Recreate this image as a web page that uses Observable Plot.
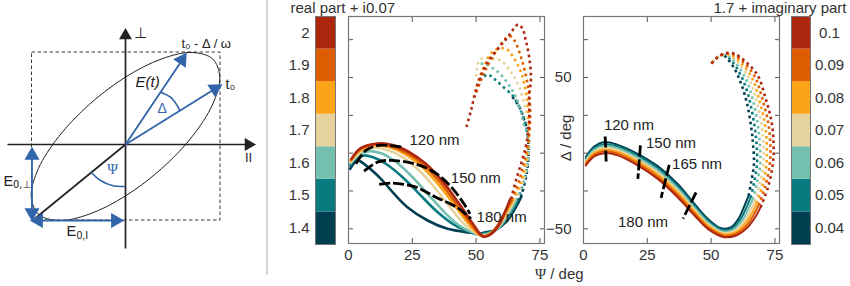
<!DOCTYPE html>
<html><head><meta charset="utf-8">
<script src="https://cdn.jsdelivr.net/npm/d3@7"></script>
<script src="https://cdn.jsdelivr.net/npm/@observablehq/plot@0.6"></script>
<style>
html,body{margin:0;padding:0;background:#fff}
#c{position:relative;width:850px;height:286px;overflow:hidden;font-family:"Liberation Sans",sans-serif;color:#333}
#c svg{position:absolute;background:transparent;overflow:visible}
.t{position:absolute;font-size:15px;line-height:15px;white-space:nowrap}
</style></head><body><div id="c"></div>
<script>
// ---------- shared
const colors=["#003f50","#087a80","#73c0ae","#e5d29c","#fca318","#dd5d00","#ac270e"];
const realLevels=[1.4,1.5,1.6,1.7,1.8,1.9,2];
const imagLevels=[0.04,0.05,0.06,0.07,0.08,0.09,0.1];
const xTicks=[0,25,50,75];
const yTicks=[-50,-25,0,25,50,75];
const yLabelTicks=[-50,50];

// ---------- real-part scan (Psi, Delta)
const realSolid14=[[.65,-10.4],[3.5,-4.8],[6.8,-8.1],[12.7,-17],[17.9,-26.9],[23.1,-35.7],[31,-44.5],[38.8,-50],[48,-52.6],[51.2,-53.3],[53.9,-52.2],[57.1,-51.1],[61.7,-45.6],[65.6,-35.7],[67.6,-29.1]];
const realSolid15=[[.5,-8.1],[2.9,-3.7],[6.1,-1.5],[9.4,-2.6],[14.6,-7],[21.2,-15.9],[27.7,-26.9],[34.2,-37.9],[40.8,-46.7],[46,-51.1],[51.2,-53.7],[54.5,-52.6],[57.8,-50.7],[62,-43.4],[66.3,-31.3]];
const realSolid16=[[.65,-7],[4.2,-.9],[8.1,1.3],[13.3,-.4],[18.6,-5.9],[25.1,-15.9],[31.6,-28],[38.2,-40.1],[43.4,-47.8],[47.3,-51.5],[51.9,-54],[55.2,-52.9],[58.4,-50],[62.4,-41.2],[65.6,-31.3]];
const realSolid17=[[.9,-5.9],[4.8,.7],[9.4,3.5],[14.6,2.4],[21.2,-2.6],[27.7,-11.5],[34.2,-23.6],[40.8,-37.9],[46,-47.8],[51.9,-54.4],[55.4,-53.3],[58.7,-48.9],[62,-40.1],[65,-31.3]];
const realSolid18=[[.9,-4.8],[4.8,2.2],[10.1,5.1],[15.9,4],[22.5,-.9],[29,-9.3],[35.6,-21.4],[42.1,-35.7],[47.3,-47.1],[52.3,-54.8],[55.4,-53.3],[58.7,-47.8],[61.7,-39],[64.3,-31.3]];
const realSolid19=[[1,-4.4],[4.8,2.9],[10.7,5.7],[16.6,4.6],[23.1,0],[29.7,-8.1],[36.2,-19.8],[42.7,-34.6],[48,-46.7],[52.5,-54.8],[55.4,-53.7],[58.7,-47.1],[61.3,-39],[63.9,-31.3]];
const realSolid20=[[1.2,-3.7],[4.8,3.3],[11.4,6.4],[17.3,5.3],[23.8,.7],[30.3,-7],[36.9,-18.7],[43.4,-33.5],[48.6,-46.3],[52.8,-55.1],[55.4,-54],[59.1,-47.1],[61,-40.1],[63.3,-30.6]];
const realDots14=[[67.6,-29.1],[69.8,-13.7],[70.5,-.4],[70.1,13.9],[68.5,23.8],[66.9,30.8],[63.3,39.2]];
const realDots15=[[66.3,-31.3],[69.5,-13.7],[70.5,-.4],[70.1,13.9],[68.5,23.8],[66.3,32.6],[64.3,38.1],[60.4,44.1],[57.1,49.1],[54.5,52],[52.5,49.8],[50.2,48]];
const realDots16=[[65.6,-31.3],[69.2,-15.9],[70.6,-.4],[70.5,12.8],[69.2,16.1],[67.6,27.1],[65.6,37],[63,44.7],[60,51.3],[56.5,56.2],[53.2,59],[50.6,59]];
const realDots17=[[65,-31.3],[68.5,-18.1],[70.2,-2.6],[70.6,12.8],[70.2,22.7],[68.9,32.6],[66.9,43.6],[63.7,53.5],[59.7,61.2],[56.5,62.3],[53.2,63],[51.2,61.2],[49.9,49.1]];
const realDots18=[[64.3,-31.3],[67.6,-19.2],[69.5,-4.8],[70.6,8.4],[70.6,24.9],[69.5,40.3],[67.6,53.5],[65,62.3],[61.7,68.9],[57.1,67.8],[53.9,60.1],[51.9,52.4],[50.2,44]];
const realDots19=[[63.9,-30.6],[66.9,-18.1],[68.9,-4.8],[70.5,8.4],[71.2,23.8],[70.8,38.1],[69.5,51.3],[67.6,63.4],[65,74.4],[63,77.3],[58.4,68.9],[53.9,55.7],[51.9,48],[49.3,37]];
const realDots20=[[63.7,-30.2],[65.6,-18.1],[68,-4.8],[69.8,7.3],[70.8,21.6],[70.8,38.1],[71.5,49.1],[70.8,63.4],[69.5,74.4],[68.2,82.2],[66.5,85],[62.4,76.7],[59.1,70],[54.5,60.1],[50.6,45.8],[48,28.2],[46,16.1]];
const thick120=[[2.9,-7],[6.8,1.8],[12,5.1],[21.2,4]];
const thick150=[[6.1,-11.9],[11.4,-5.9],[16.6,-4.8],[25.8,-7],[33.6,-12.6],[40.1,-22],[45.4,-33.9],[47.6,-40.1]];
const thick180=[[12,-20.7],[17.3,-19.8],[26.4,-22.5],[34.2,-29.1],[42.7,-36.1],[48,-43.4]];
const realLabels=[{t:"120 nm",x:33.7,y:8.8},{t:"150 nm",x:49.9,y:-16.5},{t:"180 nm",x:60,y:-42.3}];

// ---------- imaginary-part scan (Psi, Delta)
const imagSolid04=[[.9,-2.6],[4.2,4.4],[8.1,7.3],[13.4,5.5],[21.2,-.4],[29.1,-8.6],[36.9,-20.3],[43.5,-33.5],[48.7,-43.4],[53.9,-49.6],[57.9,-48.9],[61.1,-42.3],[63.1,-34.6],[64.7,-28]];
const imagSolid05=[[.9,-3.5],[4.2,3.3],[8.1,6.1],[13.4,4.3],[21.2,-1.7],[29.1,-10],[36.9,-21.8],[43.5,-34.8],[48.7,-44.5],[54.1,-50.6],[58.2,-49.8],[61.6,-43.4],[63.9,-35.7],[65.5,-29.3]];
const imagSolid06=[[.9,-4.4],[4.2,2.2],[8.1,4.9],[13.4,3.2],[21.2,-3],[29.1,-11.4],[36.9,-23.2],[43.5,-36.1],[48.7,-45.6],[54.3,-51.6],[58.5,-50.7],[62.2,-44.5],[64.6,-36.8],[66.3,-30.6]];
const imagSolid07=[[.9,-5.3],[4.2,1.1],[8.1,3.7],[13.4,2],[21.2,-4.3],[29.1,-12.8],[36.9,-24.7],[43.5,-37.4],[48.7,-46.7],[54.5,-52.5],[58.9,-51.6],[62.8,-45.6],[65.4,-37.9],[67,-31.9]];
const imagSolid08=[[.9,-6.3],[4.2,0],[8.1,2.4],[13.4,.8],[21.2,-5.5],[29.1,-14.2],[36.9,-26.2],[43.5,-38.6],[48.7,-47.8],[54.8,-53.5],[59.2,-52.6],[63.3,-46.7],[66.2,-39],[67.8,-33.1]];
const imagSolid09=[[.9,-7.2],[4.2,-1.1],[8.1,1.2],[13.4,-.3],[21.2,-6.8],[29.1,-15.6],[36.9,-27.6],[43.5,-39.9],[48.7,-48.9],[55,-54.5],[59.5,-53.5],[63.9,-47.8],[66.9,-40.1],[68.6,-34.4]];
const imagSolid10=[[.9,-8.1],[4.2,-2.2],[8.1,0],[13.4,-1.5],[21.2,-8.1],[29.1,-17],[36.9,-29.1],[43.5,-41.2],[48.7,-50],[55.2,-55.5],[59.8,-54.4],[64.4,-48.9],[67.7,-41.2],[69.4,-35.7]];
const imagDots04=[[64.7,-28],[65.7,-19.2],[66.8,-7],[66.4,6.2],[65.7,17.2],[64.1,32.6],[61.8,45.8],[59.2,55.7],[56.5,62.3],[55.2,64.5]];
const imagDots05=[[65.5,-29.3],[66.8,-19.8],[68,-7],[67.8,6.2],[67,17.9],[65.3,33.3],[62.9,46.7],[60,56.4],[57,62.9],[55.3,64.8]];
const imagDots06=[[66.3,-30.6],[67.9,-20.3],[69.3,-7],[69.1,6.2],[68.3,18.7],[66.5,34.1],[64,47.6],[60.7,57.2],[57.4,63.4],[55.4,65],[52.6,63.4],[50,59]];
const imagDots07=[[67,-31.9],[69,-20.9],[70.5,-7],[70.5,6.2],[69.7,19.4],[67.7,34.8],[65.1,48.6],[61.5,57.9],[57.9,64],[55.6,65.3],[52.6,63.4],[50,59]];
const imagDots08=[[67.8,-33.1],[70.1,-21.4],[71.7,-7],[71.8,6.2],[71,20.1],[68.8,35.5],[66.1,49.5],[62.2,58.6],[58.3,64.5],[55.7,65.6],[52.6,63.4],[50,59]];
const imagDots09=[[68.6,-34.4],[71.2,-22],[73,-7],[73.2,6.2],[72.3,20.9],[70,36.3],[67.2,50.4],[63,59.4],[58.8,65.1],[55.8,65.8],[52.6,63.4],[50,59]];
const imagDots10=[[69.4,-35.7],[72.3,-22.5],[74.2,-7],[74.5,6.2],[73.6,21.6],[71.2,37],[68.3,51.3],[63.7,60.1],[59.2,65.6],[55.9,66.1],[52.6,63.4],[50,59]];
const cut120=[[8.5,11],[8.9,-6.6]];
const cut150=[[22.3,5.1],[21.3,-17]];
const cut165=[[33.6,-7.7],[30.4,-29.5]];
const cut180=[[44.1,-26],[39,-43.2]];
const imagLabels=[{t:"120 nm",x:17.8,y:18.5},{t:"150 nm",x:34.3,y:6.6},{t:"165 nm",x:44.5,y:-7.5},{t:"180 nm",x:23.3,y:-45.6}];

// ---------- principle sketch, in field units (E parallel, E perpendicular)
const ellipse=[[94.3,67.4],[87.1,40.1],[66.7,8],[36.1,-24.1],[0,-51.4],[-36.1,-69.6],[-66.7,-76],[-87.1,-69.6],[-94.3,-51.4],[-87.1,-24.1],[-66.7,8],[-36.1,40.1],[0,67.4],[36.1,85.6],[66.7,92],[87.1,85.6]];
const envelope=[{x1:-93.5,x2:95,y1:-76,y2:92}];
const axesLines=[{x1:-118,y1:0,x2:125,y2:0},{x1:0,y1:-104,x2:0,y2:110}];
const fieldLines=[{x1:0,y1:0,x2:57,y2:85},{x1:0,y1:0,x2:90,y2:56},{x1:-93.5,y1:-5,x2:-93.5,y2:-74},{x1:-90,y1:-76,x2:-5,y2:-76}];
const blackDiag=[{x1:-93,y1:-76,x2:0,y2:0}];
const blackHeads=[{x:0,y:109,r:0},{x:123,y:0,r:90}];
const blueHeads=[{x:56.4,y:84.6,r:33.7},{x:89.5,y:55.6,r:58},{x:-93.5,y:-11,r:0},{x:-93.5,y:-68,r:180},{x:-87,y:-76,r:-90},{x:-10,y:-76,r:90}];
const arcDelta=[[35,52.3],[45,47.3],[51.7,39],[54.3,34]];
const arcPsi=[[-34.3,-27.7],[-25,-36],[-13.3,-41],[-1,-42]];
const sketchText=[
 {t:"⊥",x:15,y:111,s:15,f:"DejaVu Sans",c:"#222"},
 {t:"II",x:123,y:-13,s:13,c:"#222"},
 {t:"t₀ - Δ / ω",x:56,y:101,s:13,a:"start",c:"#222"},
 {t:"t₀",x:100,y:60,s:14,a:"start",c:"#222"},
 {t:"E(t)",x:10,y:62,s:15,a:"start",st:"italic",c:"#222"},
 {t:"Δ",x:36.7,y:36,s:14,c:"#3164a8"},
 {t:"Ψ",x:-13,y:-25,s:14.5,f:"Liberation Serif",c:"#3164a8"},
 {t:"E",x:-122,y:-37,s:14.5,a:"start",c:"#222"},
 {t:"0,⊥",x:-112.5,y:-40,s:10,a:"start",f:"DejaVu Sans",c:"#222"},
 {t:"E",x:-59,y:-87,s:14.5,a:"start",c:"#222"},
 {t:"0,I",x:-49,y:-91,s:10.5,a:"start",c:"#222"}
];
const separator=[141.5];

// ---------- build helpers
const root=document.getElementById("c");
function place(el,left,top){el.style.left=left+"px";el.style.top=top+"px";root.appendChild(el);}
function label(html,css){const d=document.createElement("div");d.className="t";d.innerHTML=html;d.style.cssText=css;root.appendChild(d);}
const font='"Liberation Sans",sans-serif';
const pts=a=>a.map(([x,y])=>({x,y}));
const curves=(list,opts)=>list.map((a,i)=>Plot.line(pts(a),{x:"x",y:"y",stroke:colors[i],curve:"catmull-rom",...opts}));

function panelAxes(showY){
 const ink="#555";
 return [
  Plot.axisX({anchor:"bottom",ticks:xTicks,label:null,tickSize:-5,tickPadding:11,fontSize:15,color:"#333",stroke:ink}),
  Plot.axisX({anchor:"top",ticks:xTicks,label:null,tickSize:-5,tickFormat:()=>"",stroke:ink}),
  Plot.axisY({anchor:"left",ticks:yTicks,label:null,tickSize:-5,tickFormat:()=>"",stroke:ink}),
  Plot.axisY({anchor:"right",ticks:yTicks,label:null,tickSize:-5,tickFormat:()=>"",stroke:ink}),
  ...(showY?[Plot.axisY({anchor:"left",ticks:yLabelTicks,label:null,tickSize:0,tickPadding:12,fontSize:15,color:"#333"})]:[]),
  Plot.frame({stroke:"#777",strokeWidth:1.2})
 ];
}
function panel(marks,width,ml,left){
 const p=Plot.plot({width,height:265,marginLeft:ml,marginRight:11,marginTop:10,marginBottom:28,
  style:{fontFamily:font,background:"transparent"},
  x:{domain:[0,76.8]},y:{domain:[-59.7,90.3]},marks});
 place(p,left,6);
}

// ---------- sketch
place(Plot.plot({width:270,height:286,margin:0,style:{fontFamily:font,background:"transparent"},
 x:{domain:[-125,145],axis:null},y:{domain:[-142,144],axis:null},
 marks:[
  Plot.ruleX(separator,{stroke:"#aaa",strokeWidth:1,y1:-131,y2:144}),
  Plot.rect(envelope,{x1:"x1",x2:"x2",y1:"y1",y2:"y2",fill:"none",stroke:"#222",strokeWidth:.9,strokeDasharray:"3.5,2.5"}),
  Plot.line(pts(ellipse),{x:"x",y:"y",curve:"catmull-rom-closed",stroke:"#222",strokeWidth:1}),
  Plot.link(axesLines,{x1:"x1",y1:"y1",x2:"x2",y2:"y2",stroke:"#222",strokeWidth:1.7}),
  Plot.link(blackDiag,{x1:"x1",y1:"y1",x2:"x2",y2:"y2",stroke:"#222",strokeWidth:1.7}),
  Plot.link(fieldLines,{x1:"x1",y1:"y1",x2:"x2",y2:"y2",stroke:"#3164a8",strokeWidth:1.8}),
  Plot.line(pts(arcDelta),{x:"x",y:"y",curve:"catmull-rom",stroke:"#3164a8",strokeWidth:1.6}),
  Plot.line(pts(arcPsi),{x:"x",y:"y",curve:"catmull-rom",stroke:"#3164a8",strokeWidth:1.6}),
  Plot.dot(blackHeads,{x:"x",y:"y",rotate:"r",symbol:"triangle",r:4.8,fill:"#222",stroke:"none"}),
  Plot.dot(blueHeads,{x:"x",y:"y",rotate:"r",symbol:"triangle",r:5.6,fill:"#3164a8",stroke:"none"}),
  ...sketchText.map(d=>Plot.text([d],{x:"x",y:"y",text:"t",fontSize:d.s,fill:d.c,textAnchor:d.a||"middle",fontStyle:d.st||"normal",fontFamily:d.f?`"${d.f}"`:font}))
 ]}),0,0);

// ---------- colour bars
function colorBar(levels,left,width,anchor,axisOpts,ml,mr){
 const rev=[...levels].reverse();
 const p=Plot.plot({width,height:229,marginTop:0,marginBottom:1,marginLeft:ml,marginRight:mr,
  style:{fontFamily:font,background:"transparent"},
  x:{axis:null,domain:["bar"],padding:0,round:false},
  y:{type:"band",domain:rev,padding:0,round:false,tickFormat:d=>String(d)},
  color:{type:"ordinal",domain:levels,range:colors},
  marks:[
   Plot.cell(levels,{x:()=>"bar",y:d=>d,fill:d=>d}),
   Plot.axisY({anchor,label:null,tickSize:0,fontSize:15,color:"#333",...axisOpts}),
   Plot.frame({stroke:"#777",strokeWidth:1})
  ]});
 place(p,left,15.5);
}
colorBar(realLevels,285,50,"left",{tickPadding:6},30,0);
colorBar(imagLevels,791,59,"right",{tickPadding:19,textAnchor:"middle"},0,40);

// ---------- left panel
const dotStyle={strokeWidth:2.6,strokeDasharray:"2.6,3.4",strokeLinecap:"butt"};
const realSolids=[realSolid14,realSolid15,realSolid16,realSolid17,realSolid18,realSolid19,realSolid20];
const realDots=[realDots14,realDots15,realDots16,realDots17,realDots18,realDots19,realDots20];
panel([
 ...curves(realDots,dotStyle),
 ...curves(realSolids,{strokeWidth:2.6}),
 ...[thick120,thick150,thick180].map(a=>Plot.line(pts(a),{x:"x",y:"y",curve:"catmull-rom",stroke:"#000",strokeWidth:2.8,strokeDasharray:"11,3",strokeLinecap:"butt"})),
 Plot.text(realLabels,{x:"x",y:"y",text:"t",fontSize:15,fill:"#222"}),
 ...panelAxes(false)
],215,8,340);

// ---------- right panel
const imagSolids=[imagSolid04,imagSolid05,imagSolid06,imagSolid07,imagSolid08,imagSolid09,imagSolid10];
const imagDots=[imagDots04,imagDots05,imagDots06,imagDots07,imagDots08,imagDots09,imagDots10];
panel([
 ...curves(imagDots,dotStyle),
 ...curves(imagSolids,{strokeWidth:2}),
 ...[cut120,cut150,cut165,cut180].map(a=>Plot.line(pts(a),{x:"x",y:"y",stroke:"#000",strokeWidth:2.8,strokeDasharray:"11,3",strokeLinecap:"butt"})),
 Plot.text(imagLabels,{x:"x",y:"y",text:"t",fontSize:15,fill:"#222"}),
 ...panelAxes(true)
],247,40,543);

// ---------- titles
label("real part + i0.07","left:290.5px;top:0px");
label("1.7 + imaginary part","right:3.5px;top:0px");
label('<span style="font-family:\'Liberation Serif\'">Ψ</span> / deg',"left:535px;top:266px");
label("Δ / deg","left:565px;top:138px;transform:translate(-50%,-50%) rotate(-90deg)");
</script></body></html>
